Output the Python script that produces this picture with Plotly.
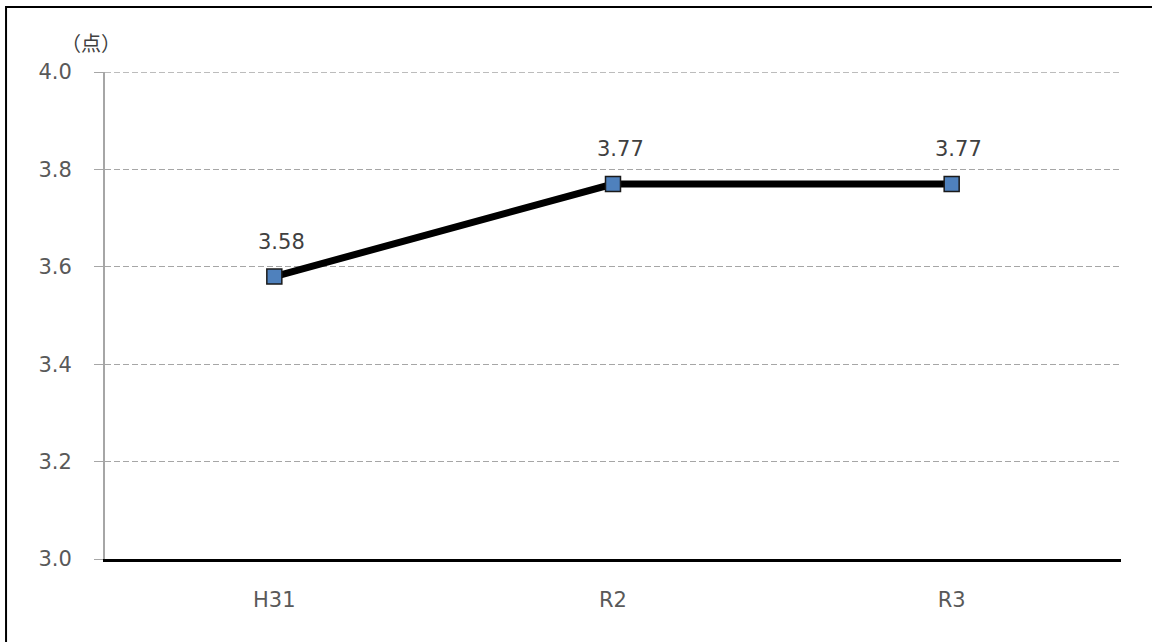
import plotly.graph_objects as go

categories = ["H31", "R2", "R3"]
values = [3.58, 3.77, 3.77]
value_labels = ["3.58", "3.77", "3.77"]
y_ticks = [3.0, 3.2, 3.4, 3.6, 3.8, 4.0]
y_tick_labels = ["3.0", "3.2", "3.4", "3.6", "3.8", "4.0"]
unit_label = "（点）"

FONT = "DejaVu Sans, Noto Sans CJK JP, sans-serif"
CJK = "Noto Sans CJK JP, sans-serif"
GRID = "#A6A6A6"
DASH = "6px,3px"

fig = go.Figure()
fig.add_trace(go.Scatter(
    x=categories, y=values, mode="lines+markers",
    line=dict(color="#000000", width=7),
    marker=dict(symbol="square", size=15, color="#4F81BD",
                line=dict(color="#1a1a1a", width=1.5)),
    showlegend=False, hoverinfo="skip",
))

for c, v, t in zip(categories, values, value_labels):
    fig.add_annotation(x=c, y=v, text=t, showarrow=False, yshift=35, xshift=7,
                       font=dict(family=FONT, size=21, color="#404040"))

fig.add_annotation(xref="paper", yref="paper", x=-0.0138, y=1.0616, text=unit_label,
                   showarrow=False, xanchor="center", yanchor="middle",
                   font=dict(family=CJK, size=20, color="#404040"))

# top gridline at the range edge (plotly omits it)
fig.add_shape(type="line", xref="paper", yref="y", x0=0, x1=1,
              y0=y_ticks[-1], y1=y_ticks[-1],
              line=dict(color=GRID, width=1.3, dash=DASH), layer="below")

# outer frame
fig.add_shape(type="rect", xref="paper", yref="paper",
              x0=-0.0974, x1=1.2, y0=-0.3, y1=1.1335,
              line=dict(color="#000000", width=2), fillcolor="rgba(0,0,0,0)", layer="below")

fig.update_layout(
    width=1152, height=642,
    margin=dict(l=105, r=31, t=72, b=83),
    paper_bgcolor="white", plot_bgcolor="white",
    font=dict(family=FONT, size=21, color="#595959"),
    xaxis=dict(
        type="category", range=[-0.5, 2.5],
        showgrid=False, showline=True, linecolor="#000000", linewidth=2.5,
        ticks="", ticklabelstandoff=20,
        tickfont=dict(family=FONT, size=21, color="#595959"),
        zeroline=False, fixedrange=True,
    ),
    yaxis=dict(
        range=[3.0, 4.0], tickvals=y_ticks, ticktext=y_tick_labels,
        showgrid=True, gridcolor=GRID, gridwidth=1.3, griddash=DASH,
        showline=True, linecolor="#A6A6A6", linewidth=2,
        ticks="outside", ticklen=9, tickcolor="#A6A6A6", tickwidth=1.3,
        ticklabelstandoff=18,
        tickfont=dict(family=FONT, size=21, color="#595959"),
        zeroline=False, fixedrange=True,
    ),
)

fig.write_html("out.html", config={"displayModeBar": False},
               post_script="document.body.style.margin='0';")
